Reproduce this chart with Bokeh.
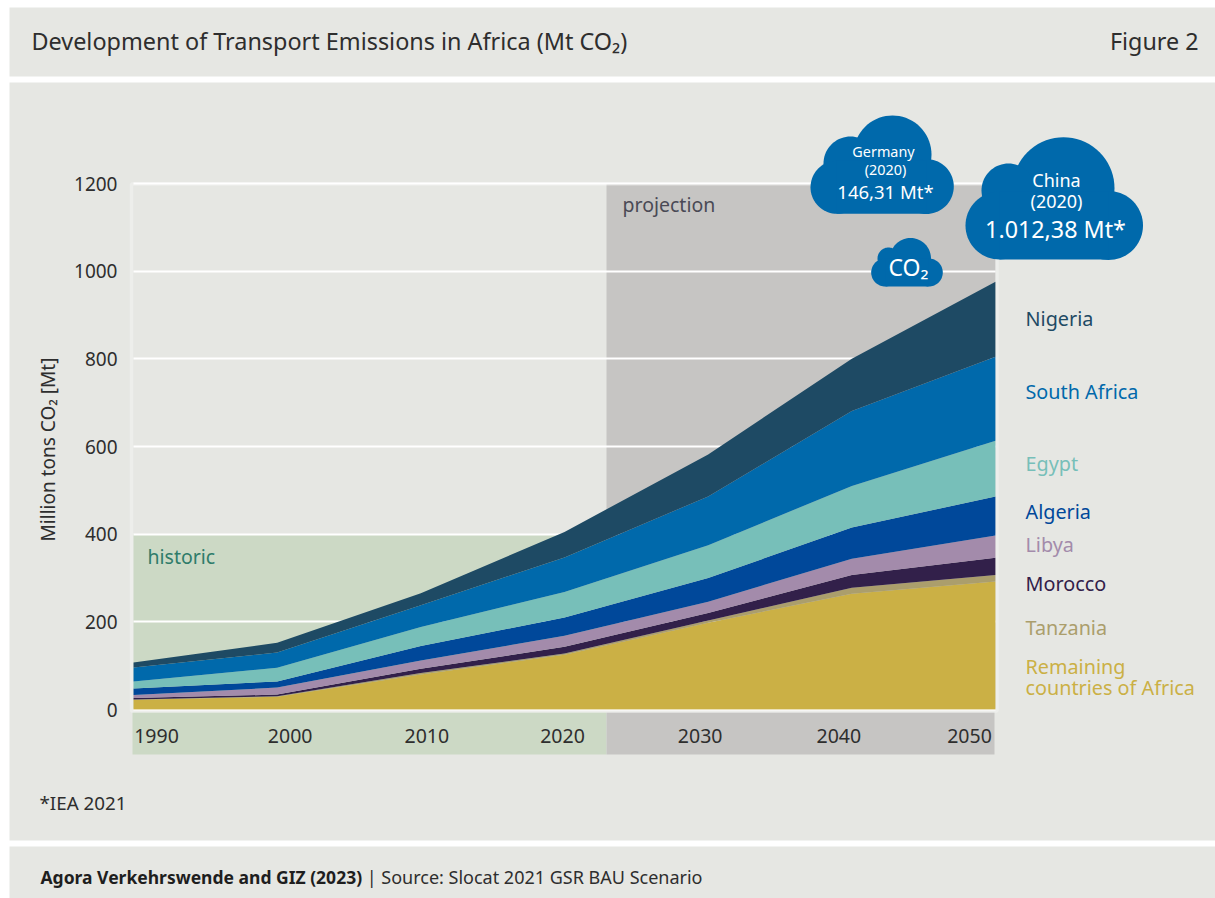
import math
from bokeh.plotting import figure
from bokeh.models import BoxAnnotation, PolyAnnotation, Label, FixedTicker, Range1d, LinearAxis, Grid
from bokeh.embed import file_html
from bokeh.resources import INLINE

years = [1990, 2000, 2010, 2020, 2030, 2040, 2050]
remaining = [22, 29, 80, 125, 198, 264, 292]
tanzania = [1, 1, 3, 3, 5, 14, 15]
morocco = [3, 4, 10, 15, 17, 29, 39]
libya = [7, 16, 19, 25, 26, 37, 51]
algeria = [15, 14, 33, 42, 54, 71, 89]
egypt = [16, 31, 43, 58, 75, 95, 127]
south_africa = [32, 35, 50, 79, 111, 171, 192]
nigeria = [11, 22, 27, 58, 96, 119, 171]
y_ticks = [0, 200, 400, 600, 800, 1000, 1200]

names = ["remaining", "tanzania", "morocco", "libya", "algeria", "egypt", "south_africa", "nigeria"]
series = [remaining, tanzania, morocco, libya, algeria, egypt, south_africa, nigeria]
colors = ["#CBB045", "#AB9E6C", "#32204A", "#A38BAB", "#00489A", "#77BFB9", "#0069AB", "#1E4A64"]

PANEL = "#E6E7E3"; GREEN = "#CCD9C5"; GREY = "#C6C5C3"; BLUE = "#0069AB"; INK = "#2E2E2E"
FONT = "Noto Sans"

# plot area in page pixels
FL, FR, FT, FB = 133, 995, 183, 709
W, H = 1215, 898
def dx(px): return 1990 + (px - FL) * 60 / (FR - FL)
def dy(py): return (FB - py) * 1200 / (FB - FT)

p = figure(width=W, height=H, output_backend="svg", toolbar_location=None,
           x_range=Range1d(dx(0), dx(W)), y_range=Range1d(dy(H), dy(0)),
           x_axis_type=None, y_axis_type=None,
           min_border_left=0, min_border_right=0, min_border_top=0, min_border_bottom=0,
           background_fill_color="white", border_fill_color="white", outline_line_color=None)

def box(l, r, t, b, color, level="underlay"):
    p.add_layout(BoxAnnotation(left=dx(l), right=dx(r), top=dy(t), bottom=dy(b), fill_color=color,
                               fill_alpha=1, line_color=None, level=level))

# page panels
box(9, 1215, 7, 76, PANEL)
box(9, 1215, 82, 840, PANEL)
box(9, 1215, 846, 898, PANEL)
# periods
box(FL, 606, FB - 400 * (FB - FT) / 1200, FB, GREEN)
box(606, FR, FT, FB, GREY)
box(132, 606, 712, 754, GREEN)
box(606, 994, 712, 754, GREY)

grid = Grid(dimension=1, ticker=FixedTicker(ticks=y_ticks), grid_line_color="white", grid_line_width=2,
            cross_bounds=(1990, 2050))
p.add_layout(grid)

p.varea_stack(stackers=names, x="x", color=colors,
              source=dict(x=years, **dict(zip(names, series))))

# white frame
p.add_layout(BoxAnnotation(left=dx(131), right=dx(996.5), top=dy(183.5), bottom=dy(710.5),
                           fill_alpha=0, line_color="white", line_width=3.5, level="annotation"))

# axes
ya = LinearAxis(fixed_location=1990, ticker=FixedTicker(ticks=y_ticks))
ya.axis_line_color = None
ya.major_tick_line_color = None
ya.minor_tick_line_color = None
ya.major_label_standoff = 10
ya.major_label_text_font = FONT
ya.major_label_text_font_size = "19px"
ya.major_label_text_color = INK
ya.axis_label = "Million tons CO₂ [Mt]"
ya.axis_label_text_font = FONT
ya.axis_label_text_font_size = "19px"
ya.axis_label_text_font_style = "normal"
ya.axis_label_text_color = INK
ya.axis_label_standoff = 10
p.add_layout(ya, "left")

scale = (FR - FL) / 60
label_shift_px = [23, 13, 6, -2, -8, -13, -26]
x_ticks = [round(y + s / scale, 3) for y, s in zip(years, label_shift_px)]
xa = LinearAxis(fixed_location=0, ticker=FixedTicker(ticks=x_ticks))
xa.major_label_overrides = {t: str(y) for t, y in zip(x_ticks, years)}
xa.axis_line_color = None
xa.major_tick_line_color = None
xa.minor_tick_line_color = None
xa.major_label_standoff = 13
xa.major_label_text_font = FONT
xa.major_label_text_font_size = "19.5px"
xa.major_label_text_color = INK
p.add_layout(xa, "below")

def text(px, py, s, size, color=INK, align="left", style="normal"):
    p.add_layout(Label(x=dx(px), y=dy(py - 1), text=s, text_font=FONT, text_font_size=f"{size}px",
                       text_color=color, text_align=align, text_baseline="middle",
                       text_font_style=style))

# titles and notes
text(31, 41.5, "Development of Transport Emissions in Africa (Mt CO₂)", 23.4)
text(1198, 41.5, "Figure 2", 23.3, align="right")
text(39, 803, "*IEA 2021", 18.8)
text(40, 877, "Agora Verkehrswende and GIZ (2023)", 17.5, color="#1E1E1E", style="bold")
text(702, 877, "| Source: Slocat 2021 GSR BAU Scenario", 18, align="right")
text(622, 205, "projection", 19.5, color="#4A4A55")
text(147, 557, "historic", 19.5, color="#2F7C6A")

# series labels
text(1025, 319, "Nigeria", 19.8, colors[7])
text(1025, 392, "South Africa", 19.8, colors[6])
text(1025, 464, "Egypt", 19.8, colors[5])
text(1025, 512, "Algeria", 19.8, colors[4])
text(1025, 545, "Libya", 19.8, colors[3])
text(1025, 584, "Morocco", 19.8, colors[2])
text(1025, 628, "Tanzania", 19.8, colors[1])
text(1025, 667, "Remaining", 19.8, colors[0])
text(1025, 688, "countries of Africa", 19.8, colors[0])

# clouds
def poly(xs, ys):
    p.add_layout(PolyAnnotation(xs=[dx(v) for v in xs], ys=[dy(v) for v in ys], fill_color=BLUE,
                                fill_alpha=1, line_color=None, level="annotation"))

def circle(cx, cy, r):
    pts = [2 * math.pi * i / 72 for i in range(72)]
    poly([cx + r * math.cos(a) for a in pts], [cy + r * math.sin(a) for a in pts])

def cloud(lobes, body):
    for c in lobes:
        circle(*c)
    l, r, t, b = body
    poly([l, r, r, l], [t, t, b, b])

cloud([(892, 154, 39), (850, 163, 27), (836.5, 186.8, 26.5), (925.8, 186, 27.5)], (836, 926, 160, 213.3))
cloud([(1063, 187.7, 51), (1008, 190, 27), (999, 225, 34), (1108, 225, 34.5)], (999, 1108, 191, 259))
cloud([(910, 258, 20.5), (888, 258, 11), (884.7, 272, 14), (928.3, 272, 14)], (885, 928, 258, 286))

text(883, 152, "Germany", 14.4, "white", "center")
text(885, 170, "(2020)", 14.4, "white", "center")
text(885, 192, "146,31 Mt*", 18.5, "white", "center")
text(1056, 180, "China", 18, "white", "center")
text(1056, 201, "(2020)", 18, "white", "center")
text(1055, 229, "1.012,38 Mt*", 23.3, "white", "center")
text(908, 267, "CO₂", 23, "white", "center")

open("out.html", "w").write(file_html(p, INLINE))
